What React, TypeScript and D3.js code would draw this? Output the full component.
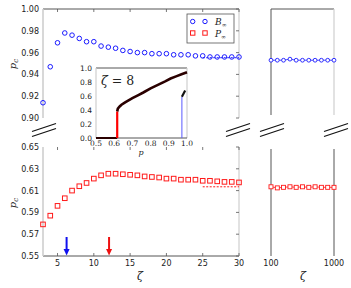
import React from "react";
import * as d3 from "d3";

const zetaSmall = [3,4,5,6,7,8,9,10,11,12,13,14,15,16,17,18,19,20,21,22,23,24,25,26,27,28,29,30];
const bInf = [0.914,0.947,0.969,0.978,0.976,0.973,0.970,0.970,0.966,0.965,0.964,0.962,0.961,0.960,0.960,0.959,0.959,0.959,0.958,0.958,0.958,0.957,0.957,0.956,0.956,0.956,0.956,0.956];
const pInf = [0.579,0.587,0.596,0.603,0.610,0.614,0.617,0.621,0.624,0.6255,0.6255,0.625,0.6245,0.624,0.623,0.6225,0.622,0.621,0.621,0.620,0.620,0.620,0.619,0.619,0.6185,0.618,0.618,0.6175];
const zetaLarge = [100,126,158,200,251,316,398,501,631,794,1000];
const bInfLarge = [0.953,0.953,0.953,0.954,0.953,0.953,0.953,0.953,0.953,0.953,0.953];
const pInfLarge = [0.6135,0.6125,0.613,0.6135,0.613,0.6135,0.613,0.6135,0.613,0.613,0.613];
const bAsym = 0.9553;
const pAsym = 0.6135;
const asymRange = [25, 30];
const arrowZetas = [6.25, 12.1];
const arrowColors = ["#1010ee", "#ee1010"];

const yTicksTop = [0.90,0.92,0.94,0.96,0.98,1.00];
const yTicksBot = [0.55,0.57,0.59,0.61,0.63,0.65];
const xTicksSmall = [5,10,15,20,25,30];
const xTicksLarge = [100,1000];

// inset (zeta = 8)
const insetP0 = [0.5, 0.6165];
const insetV0 = [0, 0];
const insetJumpP = [0.6165, 0.6165];
const insetJumpV = [0, 0.38];
const insetP = [0.6165,0.62,0.63,0.64,0.66,0.70,0.73,0.76,0.80,0.84,0.88,0.91,0.94,0.97,1.0];
const insetV = [0.38,0.42,0.45,0.475,0.51,0.57,0.61,0.65,0.71,0.76,0.81,0.85,0.88,0.91,0.94];
const insetBlueP = [0.972, 0.972];
const insetBlueV = [0, 0.59];
const insetSegP = [0.972, 0.99];
const insetSegV = [0.59, 0.68];
const insetXTicks = [0.5,0.6,0.7,0.8,0.9,1.0];
const insetYTicks = [0.0,0.2,0.4,0.6,0.8,1.0];

export default function App() {
  const xL = d3.scaleLinear().domain([3, 30]).range([43, 239]);
  const yT = d3.scaleLinear().domain([0.90, 1.00]).range([118, 9]);
  const yB = d3.scaleLinear().domain([0.55, 0.65]).range([256, 147]);
  const xR = d3.scaleLog().domain([100, 1000]).range([271, 334]);
  const xi = d3.scaleLinear().domain([0.5, 1.0]).range([96, 187]);
  const yi = d3.scaleLinear().domain([0, 1]).range([138, 68]);

  const blue = "#1a1aff";
  const red = "#ff1a1a";
  const sans = "DejaVu Sans, sans-serif";
  const serif = "DejaVu Serif, serif";
  const dark = "#555";
  const light = "#cfcfcf";

  const lineI = (ps: number[], vs: number[]) =>
    d3.line<number>().x((_, i) => xi(ps[i])).y((_, i) => yi(vs[i]))(ps) || "";
  const lineR = (ys: number[], yScale: any) =>
    d3.line<number>().x((_, i) => xR(zetaLarge[i])).y((_, i) => yScale(ys[i]))(ys) || "";

  const breakMark = (cx: number, cy: number, k: number) => (
    <g key={k} stroke="#111" strokeWidth={1.1}>
      <line x1={cx - 12} y1={cy + 1.5} x2={cx + 12} y2={cy - 6.5} />
      <line x1={cx - 12} y1={cy + 6.5} x2={cx + 12} y2={cy - 1.5} />
    </g>
  );

  const pcLabel = (y: number) => (
    <text transform={`translate(16,${y}) rotate(-90)`} textAnchor="middle" fontFamily={serif} fontStyle="italic" fontSize={10} fill="#222">
      p<tspan fontSize={7} dy={2}>c</tspan>
    </text>
  );

  return (
    <svg width={351} height={288} style={{ position: "absolute", left: 0, top: 0, background: "#fff" }}>
      {/* ===== top-left panel ===== */}
      <line x1={43} x2={239} y1={9} y2={9} stroke={dark} strokeWidth={1} />
      <line x1={43} x2={43} y1={9} y2={118} stroke={light} strokeWidth={1.6} />
      <line x1={239} x2={239} y1={9} y2={118} stroke={light} strokeWidth={1.2} />
      {xTicksSmall.map((t) => (
        <line key={"tt" + t} x1={xL(t)} x2={xL(t)} y1={9} y2={12} stroke={dark} strokeWidth={0.8} />
      ))}
      {yTicksTop.map((t) => (
        <g key={"yt" + t}>
          <text x={39} y={yT(t) + 3} textAnchor="end" fontFamily={sans} fontSize={8} fill="#222">{t.toFixed(2)}</text>
          <line x1={236} x2={239} y1={yT(t)} y2={yT(t)} stroke={dark} strokeWidth={0.8} />
        </g>
      ))}
      {pcLabel(64)}
      <line x1={xL(asymRange[0])} x2={xL(asymRange[1])} y1={yT(bAsym)} y2={yT(bAsym)} stroke={blue} strokeWidth={1} strokeDasharray="2,1.5" />
      {zetaSmall.map((z, i) => (
        <circle key={"b" + z} cx={xL(z)} cy={yT(bInf[i])} r={2.3} fill="none" stroke={blue} strokeWidth={1} />
      ))}

      {/* legend */}
      <rect x={187} y={14} width={47} height={29} fill="#fff" stroke={dark} strokeWidth={0.8} />
      <circle cx={192.7} cy={21.5} r={2.2} fill="none" stroke={blue} strokeWidth={1} />
      <circle cx={205} cy={21.5} r={2.2} fill="none" stroke={blue} strokeWidth={1} />
      <rect x={190.5} y={30.8} width={4.4} height={4.4} fill="none" stroke={red} strokeWidth={1} />
      <rect x={202.8} y={30.8} width={4.4} height={4.4} fill="none" stroke={red} strokeWidth={1} />
      <text x={215} y={24.5} fontFamily={serif} fontStyle="italic" fontSize={9} fill="#222">B<tspan fontSize={6} dy={2}>∞</tspan></text>
      <text x={215} y={36.5} fontFamily={serif} fontStyle="italic" fontSize={9} fill="#222">P<tspan fontSize={6} dy={2}>∞</tspan></text>

      {/* ===== top-right panel ===== */}
      <line x1={271} x2={334} y1={9} y2={9} stroke={dark} strokeWidth={1} />
      <line x1={271} x2={271} y1={9} y2={115} stroke={dark} strokeWidth={1} />
      <line x1={334} x2={334} y1={9} y2={115} stroke={light} strokeWidth={1.2} />
      <path d={lineR(bInfLarge, yT)} fill="none" stroke={blue} strokeWidth={0.8} />
      {zetaLarge.map((z, i) => (
        <circle key={"bl" + z} cx={xR(z)} cy={yT(bInfLarge[i])} r={1.9} fill="#fff" stroke={blue} strokeWidth={0.9} />
      ))}

      {/* ===== bottom-left panel ===== */}
      <line x1={43} x2={239} y1={256} y2={256} stroke={dark} strokeWidth={1} />
      <line x1={43} x2={43} y1={147} y2={256} stroke={light} strokeWidth={1.6} />
      <line x1={239} x2={239} y1={147} y2={256} stroke={light} strokeWidth={1.2} />
      {xTicksSmall.map((t) => (
        <g key={"bx" + t}>
          <line x1={xL(t)} x2={xL(t)} y1={147} y2={150} stroke={dark} strokeWidth={0.8} />
          <line x1={xL(t)} x2={xL(t)} y1={256} y2={253} stroke={dark} strokeWidth={0.8} />
          <text x={xL(t)} y={266} textAnchor="middle" fontFamily={sans} fontSize={8} fill="#222">{t}</text>
        </g>
      ))}
      {yTicksBot.map((t) => (
        <g key={"yb" + t}>
          <text x={39} y={yB(t) + 3} textAnchor="end" fontFamily={sans} fontSize={8} fill="#222">{t.toFixed(2)}</text>
          <line x1={236} x2={239} y1={yB(t)} y2={yB(t)} stroke={dark} strokeWidth={0.8} />
        </g>
      ))}
      {pcLabel(203)}
      <text x={140} y={280} textAnchor="middle" fontFamily={serif} fontStyle="italic" fontSize={11} fill="#222">ζ</text>
      <line x1={xL(asymRange[0])} x2={xL(asymRange[1])} y1={yB(pAsym)} y2={yB(pAsym)} stroke={red} strokeWidth={1} strokeDasharray="2,1.5" />
      {zetaSmall.map((z, i) => (
        <rect key={"p" + z} x={xL(z) - 2.3} y={yB(pInf[i]) - 2.3} width={4.6} height={4.6} fill="none" stroke={red} strokeWidth={1} />
      ))}
      {arrowZetas.map((z, i) => (
        <g key={"ar" + i}>
          <line x1={xL(z)} x2={xL(z)} y1={237} y2={250} stroke={arrowColors[i]} strokeWidth={2} />
          <path d={`M${xL(z) - 3},${249} L${xL(z) + 3},${249} L${xL(z)},${255.5} Z`} fill={arrowColors[i]} />
        </g>
      ))}

      {/* ===== bottom-right panel ===== */}
      <line x1={271} x2={271} y1={149} y2={256} stroke={dark} strokeWidth={1} />
      <line x1={334} x2={334} y1={149} y2={256} stroke={dark} strokeWidth={1} />
      <path d={lineR(pInfLarge, yB)} fill="none" stroke={red} strokeWidth={0.8} />
      {zetaLarge.map((z, i) => (
        <rect key={"pl" + z} x={xR(z) - 2} y={yB(pInfLarge[i]) - 2} width={4} height={4} fill="#fff" stroke={red} strokeWidth={0.9} />
      ))}
      {xTicksLarge.map((t) => (
        <text key={"xr" + t} x={xR(t)} y={266} textAnchor="middle" fontFamily={sans} fontSize={8} fill="#222">{t}</text>
      ))}
      <text x={303} y={280} textAnchor="middle" fontFamily={serif} fontStyle="italic" fontSize={11} fill="#222">ζ</text>

      {/* break marks */}
      {[44, 238, 272, 336].map((cx, k) => breakMark(cx, 130, k))}

      {/* ===== inset ===== */}
      <rect x={96} y={68} width={91} height={70} fill="#fff" />
      <line x1={96} x2={187} y1={68} y2={68} stroke={dark} strokeWidth={1} />
      <line x1={96} x2={96} y1={68} y2={138} stroke={light} strokeWidth={1.2} />
      <line x1={187} x2={187} y1={68} y2={138} stroke={light} strokeWidth={1.2} />
      <line x1={96} x2={187} y1={138} y2={138} stroke={dark} strokeWidth={1} />
      {insetXTicks.map((t) => (
        <text key={"ix" + t} x={xi(t)} y={146} textAnchor="middle" fontFamily={serif} fontSize={7.5} fill="#222">{t.toFixed(1)}</text>
      ))}
      {insetYTicks.map((t) => (
        <text key={"iy" + t} x={92} y={yi(t) + 2.8} textAnchor="end" fontFamily={sans} fontSize={7.5} fill="#222">{t.toFixed(1)}</text>
      ))}
      <text x={141} y={155} textAnchor="middle" fontFamily={serif} fontStyle="italic" fontSize={8} fill="#222">p</text>
      <text x={101} y={85} fontFamily={serif} fontSize={12.5} fill="#222"><tspan fontStyle="italic">ζ</tspan> = 8</text>
      <path d={lineI(insetP0, insetV0)} fill="none" stroke="#2a0000" strokeWidth={2} />
      <path d={lineI(insetJumpP, insetJumpV)} fill="none" stroke="#ff0000" strokeWidth={2.2} />
      <path d={lineI(insetP, insetV)} fill="none" stroke="#2a0000" strokeWidth={2.6} />
      <path d={lineI(insetBlueP, insetBlueV)} fill="none" stroke="#5a5aff" strokeWidth={1} />
      <path d={lineI(insetSegP, insetSegV)} fill="none" stroke="#111" strokeWidth={2.2} />
    </svg>
  );
}
